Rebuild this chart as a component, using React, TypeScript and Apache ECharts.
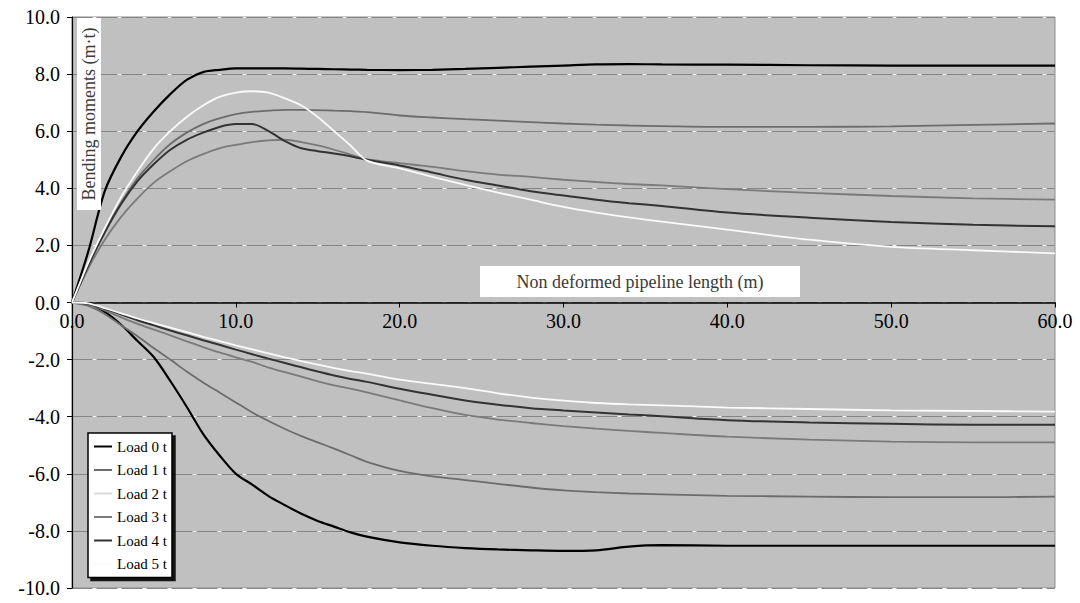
import React, { useEffect, useRef } from "react";
import * as echarts from "echarts";

// Distance along pipeline (m)
const X = [0, 1, 2, 3, 4, 5, 6, 7, 8, 9, 10, 11, 12, 13, 14, 15, 16, 17, 18, 20, 22, 24, 26, 28, 30, 32, 34, 36, 40, 45, 50, 55, 60];

const LOADS = ["Load 0 t", "Load 1 t", "Load 2 t", "Load 3 t", "Load 4 t", "Load 5 t"];
const COLORS = ["#000000", "#6c6c6c", "#dadada", "#7a7a7a", "#333333", "#fafafa"];
const WIDTHS = [2.2, 1.8, 1.6, 1.8, 2, 1.8];

// Positive bending moments (m·t)
const load0Pos = [0, 1.8, 3.9, 5.1, 6.0, 6.7, 7.3, 7.8, 8.07, 8.15, 8.2, 8.2, 8.2, 8.2, 8.19, 8.18, 8.17, 8.16, 8.15, 8.14, 8.15, 8.18, 8.22, 8.26, 8.3, 8.34, 8.35, 8.34, 8.33, 8.31, 8.3, 8.3, 8.3];
const load1Pos = [0, 1.3, 2.5, 3.5, 4.35, 5.0, 5.55, 5.95, 6.25, 6.45, 6.6, 6.68, 6.72, 6.75, 6.75, 6.74, 6.72, 6.7, 6.67, 6.55, 6.48, 6.42, 6.37, 6.32, 6.27, 6.23, 6.2, 6.18, 6.15, 6.15, 6.17, 6.22, 6.27];
const load2Pos: number[] = [];
const load3Pos = [0, 1.2, 2.2, 3.0, 3.65, 4.2, 4.6, 4.95, 5.2, 5.4, 5.52, 5.62, 5.68, 5.7, 5.62, 5.5, 5.35, 5.18, 5.02, 4.88, 4.75, 4.6, 4.48, 4.4, 4.3, 4.22, 4.15, 4.1, 3.97, 3.84, 3.73, 3.65, 3.6];
const load4Pos = [0, 1.3, 2.45, 3.45, 4.25, 4.85, 5.35, 5.7, 5.95, 6.15, 6.25, 6.25, 6.0, 5.65, 5.4, 5.3, 5.22, 5.12, 5.0, 4.8, 4.55, 4.3, 4.1, 3.9, 3.75, 3.6, 3.48, 3.38, 3.15, 2.97, 2.82, 2.72, 2.67];
const load5Pos = [0, 1.4, 2.6, 3.7, 4.6, 5.4, 6.0, 6.5, 6.9, 7.2, 7.35, 7.4, 7.35, 7.15, 6.9, 6.5, 6.0, 5.5, 4.97, 4.7, 4.4, 4.12, 3.85, 3.6, 3.35, 3.15, 2.98, 2.83, 2.55, 2.2, 1.95, 1.83, 1.72];

// Negative bending moments (m·t)
const load0Neg = [0, -0.03, -0.33, -0.78, -1.35, -1.92, -2.75, -3.65, -4.6, -5.35, -6.0, -6.38, -6.78, -7.1, -7.4, -7.65, -7.85, -8.05, -8.2, -8.4, -8.52, -8.6, -8.65, -8.68, -8.7, -8.68, -8.55, -8.5, -8.52, -8.52, -8.52, -8.52, -8.52];
const load1Neg = [0, -0.12, -0.4, -0.8, -1.18, -1.6, -2.0, -2.42, -2.8, -3.15, -3.5, -3.85, -4.15, -4.43, -4.68, -4.9, -5.12, -5.35, -5.58, -5.9, -6.09, -6.22, -6.35, -6.48, -6.58, -6.64, -6.69, -6.72, -6.77, -6.8, -6.82, -6.82, -6.8];
const load2Neg: number[] = [];
const load3Neg = [0, -0.05, -0.28, -0.52, -0.75, -0.95, -1.15, -1.36, -1.56, -1.75, -1.92, -2.08, -2.28, -2.44, -2.6, -2.76, -2.9, -3.02, -3.15, -3.43, -3.7, -3.94, -4.1, -4.22, -4.33, -4.42, -4.5, -4.57, -4.7, -4.8, -4.87, -4.9, -4.9];
const load4Neg = [0, -0.05, -0.22, -0.42, -0.62, -0.8, -0.98, -1.15, -1.32, -1.48, -1.65, -1.81, -1.97, -2.12, -2.27, -2.42, -2.56, -2.68, -2.78, -3.02, -3.23, -3.43, -3.58, -3.7, -3.78, -3.85, -3.92, -3.98, -4.12, -4.2, -4.25, -4.28, -4.28];
const load5Neg = [0, -0.03, -0.2, -0.38, -0.56, -0.72, -0.88, -1.04, -1.2, -1.35, -1.5, -1.64, -1.78, -1.92, -2.05, -2.18, -2.3, -2.4, -2.49, -2.7, -2.85, -3.0, -3.18, -3.33, -3.44, -3.52, -3.57, -3.6, -3.68, -3.73, -3.78, -3.8, -3.82];

const POS = [load0Pos, load1Pos, load2Pos, load3Pos, load4Pos, load5Pos];
const NEG = [load0Neg, load1Neg, load2Neg, load3Neg, load4Neg, load5Neg];

const X_TITLE = "Non deformed pipeline length (m)";
const Y_TITLE = "Bending moments (m·t)";
const FONT = "'Liberation Serif', 'Times New Roman', serif";

const GRID_TOP = 17;
const GRID_BOTTOM = 15;
const CHART_H = 603;

export default function App() {
  const ref = useRef<HTMLDivElement>(null);

  useEffect(() => {
    if (!ref.current) return;
    const chart = echarts.init(ref.current, null, { renderer: "svg" });

    const series: any[] = [];
    LOADS.forEach((name, i) => {
      [POS[i], NEG[i]].forEach((vals) => {
        series.push({
          name,
          type: "line",
          data: vals.map((v, j) => [X[j], v]),
          symbol: "none",
          smooth: 0.3,
          lineStyle: { color: COLORS[i], width: WIDTHS[i] },
          itemStyle: { color: COLORS[i] },
          xAxisIndex: 0,
          yAxisIndex: 0,
          z: 2 + i,
        });
      });
    });

    const axisFont = { fontFamily: FONT, fontSize: 20, color: "#000" };
    // place the x axis at y = 0 (middle of the symmetric -10..10 range)
    const plotH = CHART_H - GRID_TOP - GRID_BOTTOM;
    const xOffset = -plotH / 2;

    chart.setOption({
      animation: false,
      backgroundColor: "#ffffff",
      grid: {
        left: 72,
        right: 25,
        top: GRID_TOP,
        bottom: GRID_BOTTOM,
        show: true,
        backgroundColor: "#c0c0c0",
        borderColor: "#8c8c8c",
        borderWidth: 1,
        containLabel: false,
        outerBoundsMode: "none",
      },
      xAxis: {
        type: "value",
        min: 0,
        max: 60,
        interval: 10,
        position: "bottom",
        offset: xOffset,
        axisLine: { onZero: false, lineStyle: { color: "#000", width: 1.5 } },
        axisTick: { show: true, length: 5, lineStyle: { color: "#000" } },
        axisLabel: { ...axisFont, margin: 8, formatter: (v: number) => v.toFixed(1) },
        splitLine: { show: false },
      },
      yAxis: [
        {
          type: "value",
          min: -10,
          max: 10,
          interval: 2,
          axisLine: { show: true, onZero: false, lineStyle: { color: "#000", width: 1.2 } },
          axisTick: { show: true, length: 5, lineStyle: { color: "#000" } },
          axisLabel: { ...axisFont, margin: 12, formatter: (v: number) => v.toFixed(1) },
          splitLine: { show: true, lineStyle: { color: "#858585", width: 1.2, type: [20, 5] } },
        },
        {
          type: "value",
          min: -10,
          max: 10,
          interval: 2,
          position: "left",
          axisLine: { show: false, onZero: false },
          axisTick: { show: false },
          axisLabel: { show: false },
          splitLine: { show: true, lineStyle: { color: "#f4f4f4", width: 1.2, type: [3, 22], dashOffset: 4 } },
        },
      ],
      legend: {
        data: LOADS,
        orient: "vertical",
        left: 88,
        top: 433,
        icon: "rect",
        itemWidth: 18,
        itemHeight: 2,
        itemGap: 8.5,
        padding: [6, 5, 6, 6],
        backgroundColor: "#ffffff",
        borderColor: "#000",
        borderWidth: 1.5,
        shadowColor: "rgba(0,0,0,0.9)",
        shadowBlur: 0,
        shadowOffsetX: 3,
        shadowOffsetY: 3,
        textStyle: { fontFamily: FONT, fontSize: 15, lineHeight: 15, color: "#000" },
        selectedMode: false,
      },
      graphic: [
        {
          type: "rect",
          shape: { x: 77, y: 18, width: 24, height: 192 },
          style: { fill: "#ffffff" },
          z: 10,
        },
        {
          type: "text",
          x: 89,
          y: 114,
          rotation: Math.PI / 2,
          style: {
            text: Y_TITLE,
            font: `18px ${FONT}`,
            fill: "#3a3a3a",
            align: "center",
            verticalAlign: "middle",
          },
          z: 11,
        },
        {
          type: "rect",
          shape: { x: 480, y: 266, width: 320, height: 31 },
          style: { fill: "#ffffff" },
          z: 10,
        },
        {
          type: "text",
          x: 640,
          y: 282,
          style: {
            text: X_TITLE,
            font: `18px ${FONT}`,
            fill: "#3a3a3a",
            align: "center",
            verticalAlign: "middle",
          },
          z: 11,
        },
      ],
      series,
    });

    return () => chart.dispose();
  }, []);

  return (
    <div
      ref={ref}
      style={{ position: "fixed", left: 0, top: 0, width: 1080, height: 603 }}
    />
  );
}
